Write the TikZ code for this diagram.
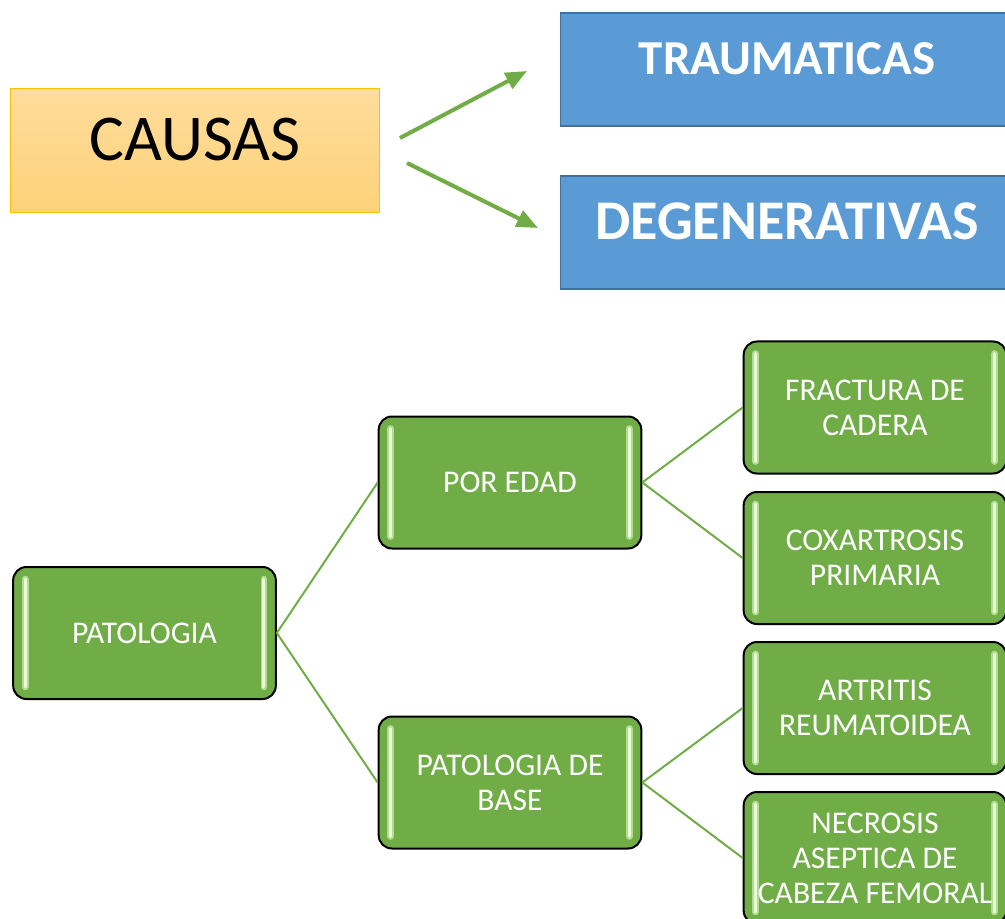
\documentclass[tikz,border=0pt]{standalone}
\usepackage{fontspec}
\setmainfont{Carlito}
\usetikzlibrary{arrows.meta}
\definecolor{ggreen}{HTML}{70AD47}
\definecolor{hlgreen}{HTML}{EAFFD6}
\definecolor{hlsoft}{HTML}{B2DC93}
\definecolor{bblue}{HTML}{5B9BD5}
\definecolor{bblueedge}{HTML}{41719C}
\definecolor{otop}{HTML}{FFDC9C}
\definecolor{obot}{HTML}{FDD279}
\definecolor{oedge}{HTML}{FFC000}
\tikzset{
  gbox/.style={draw=black, line width=1.5pt, fill=ggreen, rounded corners=10pt,
    minimum width=197pt, minimum height=99pt, inner sep=0pt, align=center,
    text=white, font=\fontsize{23.7}{26.3}\selectfont,
    path picture={
      \foreach \xs/\cor in {9pt/west,-9pt/east}{
        \draw[hlsoft, line width=5pt, line cap=round]
          ([xshift=\xs,yshift=-9pt]path picture bounding box.north \cor) --
          ([xshift=\xs,yshift=9pt]path picture bounding box.south \cor);
        \draw[hlgreen, line width=2.2pt, line cap=round]
          ([xshift=\xs,yshift=-9pt]path picture bounding box.north \cor) --
          ([xshift=\xs,yshift=9pt]path picture bounding box.south \cor);
      }
    }},
  bbox/.style={draw=bblueedge, line width=1.2pt, fill=bblue, minimum width=340pt,
    minimum height=85pt, inner sep=0pt, text=white},
  obox/.style={draw=oedge, line width=0.9pt, top color=otop, bottom color=obot,
    minimum width=277pt, minimum height=93.5pt, inner sep=0pt,
    font=\fontsize{49}{56}\selectfont},
  arr/.style={draw=ggreen, line width=3pt, -{Triangle[length=16pt,width=13pt]}},
  conn/.style={draw=ggreen, line width=1.5pt}
}
\begin{document}
\begin{tikzpicture}[x=0.75pt,y=-0.75pt]
\useasboundingbox (0,0) rectangle (1005,919);
\clip (0,0) rectangle (1005,919);
% top part
\node[obox] (causas) at (195,150.5) {\raisebox{17pt}{CAUSAS}};
\node[bbox, font=\fontsize{36.6}{40}\selectfont\bfseries] (trauma) at (787,69.5) {\raisebox{17pt}{TRAUMATICAS}};
\node[bbox, font=\fontsize{42}{46}\selectfont\bfseries, minimum height=84.5pt] (degen) at (787,232.5) {\raisebox{17pt}{DEGENERATIVAS}};
\coordinate (a1s) at (400,138);
\coordinate (a1e) at (527,71);
\coordinate (a2s) at (407,163);
\coordinate (a2e) at (538,228);
\draw[arr] (a1s) -- (a1e);
\draw[arr] (a2s) -- (a2e);
% tree
\node[gbox] (pat) at (144.5,633) {PATOLOGIA};
\node[gbox] (edad) at (510,482.5) {POR EDAD};
\node[gbox] (base) at (510,782.5) {PATOLOGIA DE\\BASE};
\node[gbox] (frac) at (875,407.5) {FRACTURA DE\\CADERA};
\node[gbox] (coxa) at (875,558) {COXARTROSIS\\PRIMARIA};
\node[gbox] (artr) at (875,708) {ARTRITIS\\REUMATOIDEA};
\node[gbox] (necr) at (875,858) {NECROSIS\\ASEPTICA DE\\CABEZA FEMORAL};
\draw[conn] (pat.east) -- (edad.west);
\draw[conn] (pat.east) -- (base.west);
\draw[conn] (edad.east) -- (frac.west);
\draw[conn] (edad.east) -- (coxa.west);
\draw[conn] (base.east) -- (artr.west);
\draw[conn] (base.east) -- (necr.west);
\end{tikzpicture}
\end{document}
